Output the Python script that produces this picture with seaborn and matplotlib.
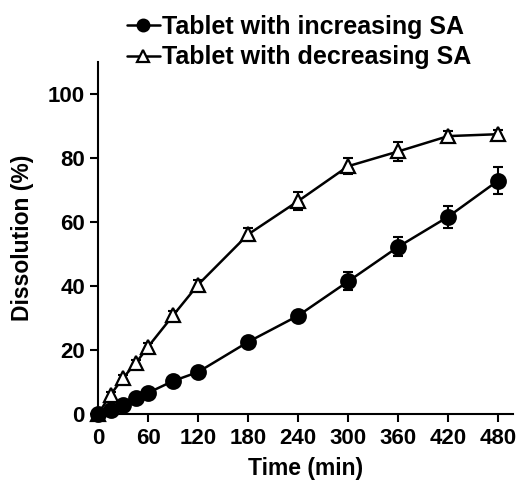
import matplotlib
matplotlib.use("Agg")
import matplotlib.pyplot as plt
import seaborn as sns
import pandas as pd

# Sampling times (min)
time_min = [0, 15, 30, 45, 60, 90, 120, 180, 240, 300, 360, 420, 480]

# Mean dissolution (%) and standard deviation for each tablet design
increasing_sa = [0, 1.3, 2.8, 5.0, 6.6, 10.3, 13.1, 22.5, 30.7, 41.4, 52.2, 61.6, 72.9]
increasing_sd = [0, 0.3, 0.4, 0.5, 0.6, 0.8, 0.9, 1.2, 1.5, 2.8, 3.0, 3.5, 4.2]
decreasing_sa = [0, 6.0, 11.3, 15.8, 21.0, 30.8, 40.4, 56.1, 66.5, 77.4, 82.0, 86.8, 87.4]
decreasing_sd = [0, 0.8, 0.9, 1.0, 1.2, 1.5, 1.5, 2.0, 2.8, 2.5, 3.0, 1.6, 1.2]

series_names = ["Tablet with increasing SA", "Tablet with decreasing SA"]
x_ticks = [0, 60, 120, 180, 240, 300, 360, 420, 480]
y_ticks = [0, 20, 40, 60, 80, 100]

sns.set_style("ticks")
plt.rcParams["font.family"] = ["Liberation Sans", "DejaVu Sans"]
plt.rcParams["font.weight"] = "bold"
plt.rcParams["text.color"] = "black"
plt.rcParams["axes.labelcolor"] = "black"
plt.rcParams["xtick.color"] = "black"
plt.rcParams["ytick.color"] = "black"
plt.rcParams["axes.edgecolor"] = "black"

df_inc = pd.DataFrame({"time": time_min, "value": increasing_sa, "sd": increasing_sd})
df_dec = pd.DataFrame({"time": time_min, "value": decreasing_sa, "sd": decreasing_sd})

fig = plt.figure(figsize=(5.22, 4.87), dpi=100)
ax = fig.add_axes([0.188, 0.150, 0.795, 0.723])

for df, name, marker, face in [
    (df_dec, series_names[1], "^", "white"),
    (df_inc, series_names[0], "o", "black"),
]:
    ax.errorbar(df["time"], df["value"], yerr=df["sd"], fmt="none",
                ecolor="black", elinewidth=1.5, capsize=3.5, capthick=1.5,
                zorder=2, clip_on=False)
    sns.lineplot(data=df, x="time", y="value", ax=ax, color="black",
                 linewidth=1.8, marker=marker, markersize=10.5 if marker == "o" else 10,
                 markerfacecolor=face, markeredgecolor="black",
                 markeredgewidth=1.6, label=name, zorder=3, clip_on=False)

ax.set_xlim(0, 498)
ax.set_ylim(0, 110)
ax.set_xticks(x_ticks)
ax.set_yticks(y_ticks)
ax.tick_params(axis="both", labelsize=16, width=1.5, length=6, direction="out",
               colors="black")
ax.tick_params(axis="x", pad=4)
for lbl in ax.get_xticklabels() + ax.get_yticklabels():
    lbl.set_fontweight("bold")
ax.set_xlabel("Time (min)", fontsize=16.5, fontweight="bold", labelpad=6)
ax.set_ylabel("Dissolution (%)", fontsize=16.5, fontweight="bold", labelpad=10)
for side in ["top", "right"]:
    ax.spines[side].set_visible(False)
for side in ["left", "bottom"]:
    ax.spines[side].set_linewidth(1.5)

handles, labels = ax.get_legend_handles_labels()
order = [labels.index(series_names[0]), labels.index(series_names[1])]
ax.get_legend().remove()
leg = fig.legend([handles[i] for i in order], [labels[i] for i in order],
                 loc="upper left", bbox_to_anchor=(0.215, 1.0), frameon=False,
                 prop={"family": "Liberation Sans", "size": 18, "weight": "bold"},
                 handlelength=1.3, handletextpad=0.1, labelspacing=0.25,
                 borderaxespad=0.2, markerscale=0.8)

fig.savefig("out.png", dpi=100)
